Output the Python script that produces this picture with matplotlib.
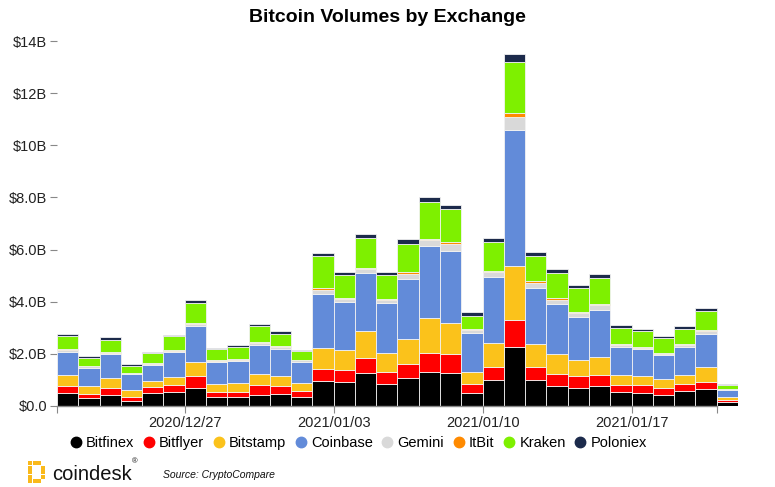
import matplotlib
matplotlib.use("Agg")
import matplotlib.pyplot as plt
from matplotlib.lines import Line2D
from matplotlib.patches import Rectangle
import numpy as np

plt.rcParams['font.family'] = ['Liberation Sans', 'DejaVu Sans']

dates = ["2020/12/21", "2020/12/22", "2020/12/23", "2020/12/24", "2020/12/25", "2020/12/26",
         "2020/12/27", "2020/12/28", "2020/12/29", "2020/12/30", "2020/12/31", "2021/01/01",
         "2021/01/02", "2021/01/03", "2021/01/04", "2021/01/05", "2021/01/06", "2021/01/07",
         "2021/01/08", "2021/01/09", "2021/01/10", "2021/01/11", "2021/01/12", "2021/01/13",
         "2021/01/14", "2021/01/15", "2021/01/16", "2021/01/17", "2021/01/18", "2021/01/19",
         "2021/01/20", "2021/01/21"]

# values in billions USD
bitfinex = [0.49, 0.29, 0.42, 0.19, 0.49, 0.52, 0.70, 0.33, 0.34, 0.42, 0.47, 0.34,
            0.95, 0.92, 1.26, 0.84, 1.07, 1.32, 1.28, 0.51, 1.01, 2.25, 1.00, 0.78,
            0.69, 0.75, 0.55, 0.50, 0.42, 0.57, 0.65, 0.15]
bitflyer = [0.29, 0.18, 0.26, 0.17, 0.22, 0.28, 0.45, 0.19, 0.19, 0.37, 0.31, 0.23,
            0.47, 0.46, 0.57, 0.46, 0.54, 0.72, 0.72, 0.33, 0.49, 1.03, 0.51, 0.45,
            0.45, 0.43, 0.26, 0.31, 0.27, 0.27, 0.28, 0.09]
bitstamp = [0.40, 0.31, 0.38, 0.26, 0.26, 0.32, 0.55, 0.33, 0.37, 0.45, 0.37, 0.31,
            0.80, 0.78, 1.06, 0.72, 0.97, 1.33, 1.17, 0.46, 0.93, 2.09, 0.86, 0.75,
            0.63, 0.69, 0.38, 0.34, 0.33, 0.36, 0.57, 0.11]
coinbase = [0.88, 0.69, 0.92, 0.60, 0.61, 0.96, 1.38, 0.83, 0.83, 1.09, 1.05, 0.82,
            2.09, 1.84, 2.21, 1.94, 2.30, 2.75, 2.77, 1.51, 2.50, 5.22, 2.17, 1.93,
            1.66, 1.83, 1.09, 1.02, 0.92, 1.06, 1.26, 0.28]
gemini = [0.08, 0.05, 0.06, 0.03, 0.04, 0.04, 0.08, 0.05, 0.04, 0.08, 0.06, 0.05,
          0.15, 0.09, 0.14, 0.10, 0.18, 0.23, 0.27, 0.11, 0.20, 0.51, 0.18, 0.17,
          0.14, 0.17, 0.06, 0.06, 0.06, 0.08, 0.11, 0.03]
itbit = [0.04, 0.03, 0.04, 0.01, 0.03, 0.04, 0.03, 0.03, 0.03, 0.04, 0.05, 0.03,
         0.06, 0.04, 0.06, 0.06, 0.08, 0.05, 0.08, 0.04, 0.06, 0.15, 0.06, 0.05,
         0.04, 0.05, 0.03, 0.03, 0.03, 0.05, 0.04, 0.01]
kraken = [0.49, 0.31, 0.46, 0.29, 0.37, 0.52, 0.77, 0.42, 0.47, 0.60, 0.47, 0.32,
          1.23, 0.89, 1.14, 0.89, 1.09, 1.42, 1.25, 0.51, 1.11, 1.94, 0.96, 0.96,
          0.92, 1.00, 0.64, 0.61, 0.57, 0.57, 0.72, 0.15]
poloniex = [0.08, 0.06, 0.09, 0.05, 0.06, 0.06, 0.10, 0.06, 0.06, 0.09, 0.08, 0.05,
            0.13, 0.13, 0.17, 0.14, 0.17, 0.19, 0.18, 0.15, 0.15, 0.31, 0.17, 0.15,
            0.13, 0.14, 0.10, 0.08, 0.08, 0.11, 0.11, 0.04]

exchanges = ["Bitfinex", "Bitflyer", "Bitstamp", "Coinbase", "Gemini", "ItBit", "Kraken", "Poloniex"]
series = [bitfinex, bitflyer, bitstamp, coinbase, gemini, itbit, kraken, poloniex]
colors = ["#000000", "#ff0000", "#fbc21b", "#628bd9", "#d9d9d9", "#ff8a00", "#7ef000", "#1c2a4b"]

yticks = [0, 2, 4, 6, 8, 10, 12, 14]
ytick_labels = ["$0.0", "$2.0B", "$4.0B", "$6.0B", "$8.0B", "$10B", "$12B", "$14B"]
xtick_labels = ["2020/12/27", "2021/01/03", "2021/01/10", "2021/01/17"]

W, H = 775, 487
fig = plt.figure(figsize=(W / 100, H / 100), dpi=100)
ax = fig.add_axes([57 / W, (H - 406) / H, (738 - 57) / W, (406 - 41) / H])

x = np.arange(len(dates))
bottom = np.zeros(len(dates))
for name, vals, col in zip(exchanges, series, colors):
    v = np.array(vals)
    ax.bar(x, v, width=1.0, bottom=bottom, align='edge', color=col,
           edgecolor='#f2f2f2', linewidth=0.6, label=name, zorder=2)
    bottom += v

ax.set_xlim(0, len(dates))
ax.set_ylim(0, 14)
ax.set_yticks(yticks)
ax.set_yticklabels(ytick_labels)
tick_pos = [dates.index(d) for d in xtick_labels]
all_ticks = [0] + tick_pos + [len(dates) - 1]
ax.set_xticks(all_ticks)
ax.set_xticklabels([""] + xtick_labels + [""])

for s in ["top", "right", "left"]:
    ax.spines[s].set_visible(False)
ax.spines["bottom"].set_bounds(0, len(dates) - 1)
ax.spines["bottom"].set_color("#888888")
ax.spines["bottom"].set_linewidth(1.0)
ax.tick_params(axis='y', length=5, color="#888888", labelsize=10.5, labelcolor="#222222", pad=2)
ax.tick_params(axis='x', length=5, color="#888888", labelsize=10.5, labelcolor="#222222", pad=2)

fig.text(387 / W, 1 - 17 / H, "Bitcoin Volumes by Exchange", ha='center', va='center',
         fontsize=14, fontweight='bold', color='#000000')

handles = [Line2D([0], [0], marker='o', linestyle='none', markersize=7.5,
                  markerfacecolor=c, markeredgecolor=c) for c in colors]
fig.legend(handles, exchanges, loc='center', bbox_to_anchor=(358 / W, 1 - 443 / H),
           ncol=8, frameon=False, fontsize=10.5, handletextpad=0.25, columnspacing=0.55,
           handlelength=0.9, borderaxespad=0)

# coindesk logo
logo_color = "#f9b91b"
dots = [(28, 463), (32.5, 463), (37, 463), (28, 467.5), (28, 472), (28, 476.5),
        (28, 481), (32.5, 481), (37, 481), (41, 467.5), (41, 472), (41, 476.5)]
for (dx, dy) in dots:
    fig.patches.append(Rectangle((dx / W, 1 - (dy + 2) / H), 4.0 / W, 4.0 / H,
                                 transform=fig.transFigure, facecolor=logo_color,
                                 edgecolor='none'))
fig.text(52 / W, 1 - 474 / H, "coindesk", ha='left', va='center', fontsize=14.5,
         color='#111111')
fig.text(132 / W, 1 - 462 / H, "®", ha='left', va='center', fontsize=5.5, color='#111111')
fig.text(163 / W, 1 - 475 / H, "Source: CryptoCompare", ha='left', va='center',
         fontsize=7.5, style='italic', color='#111111')

fig.savefig("out.png", dpi=100)
